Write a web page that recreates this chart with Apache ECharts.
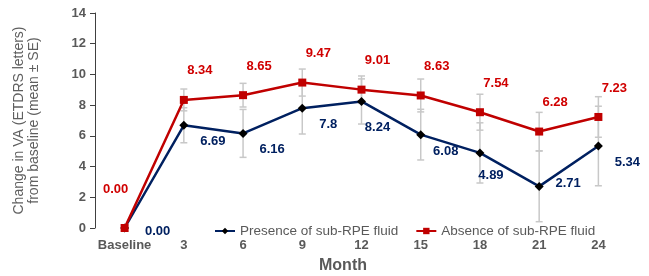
<!DOCTYPE html>
<html>
<head>
<meta charset="utf-8">
<script src="https://cdn.jsdelivr.net/npm/echarts@6.0.0/dist/echarts.min.js"></script>
<style>
  html, body { margin: 0; padding: 0; background: #fff; }
  #chart { width: 649px; height: 276px; }
</style>
</head>
<body>
<div id="chart"></div>
<script>
// 数据
const months = ['Baseline', '3', '6', '9', '12', '15', '18', '21', '24'];
const presenceMean = [0, 6.69, 6.16, 7.8, 8.24, 6.08, 4.89, 2.71, 5.34];
const presenceSE = [0, 1.14, 1.56, 1.68, 1.47, 1.65, 1.96, 2.3, 2.59];
const presenceText = ['0.00', '6.69', '6.16', '7.8', '8.24', '6.08', '4.89', '2.71', '5.34'];
const absenceMean = [0, 8.34, 8.65, 9.47, 9.01, 8.63, 7.54, 6.28, 7.23];
const absenceSE = [0, 0.71, 0.77, 0.88, 0.89, 1.07, 1.17, 1.25, 1.32];
const absenceText = ['0.00', '8.34', '8.65', '9.47', '9.01', '8.63', '7.54', '6.28', '7.23'];
const yTicks = [0, 2, 4, 6, 8, 10, 12, 14];

// 标签偏移（样式）
const presenceOffsets = [[33, 3], [29, 16], [29, 16], [26, 16], [16, 26], [25, 17], [11, 23], [29, -3], [29, 16]];
const absenceOffsets = [[-9, -39], [16, -29], [16, -29], [16, -29], [16, -29], [16, -29], [16, -29], [16, -29], [16, -29]];

const FONT = '"Liberation Sans", Arial, sans-serif';
const RED = '#c00000';
const NAVY = '#002060';
const GREY = '#595959';

function labelled(values, texts, offsets) {
  return values.map((v, i) => ({
    value: v,
    label: { offset: offsets[i], formatter: texts[i] }
  }));
}

function errorData(means, ses) {
  return means.map((m, i) => [i, m - ses[i], m + ses[i]]);
}

function renderErrorBar(params, api) {
  const lo = api.value(1);
  const hi = api.value(2);
  if (hi - lo < 1e-6) {
    return null;
  }
  const top = api.coord([api.value(0), hi]);
  const bot = api.coord([api.value(0), lo]);
  const half = 3.5;
  const style = { stroke: '#c8c8c8', lineWidth: 1.5 };
  return {
    type: 'group',
    children: [
      { type: 'line', shape: { x1: top[0], y1: top[1], x2: bot[0], y2: bot[1] }, style: style },
      { type: 'line', shape: { x1: top[0] - half, y1: top[1], x2: top[0] + half, y2: top[1] }, style: style },
      { type: 'line', shape: { x1: bot[0] - half, y1: bot[1], x2: bot[0] + half, y2: bot[1] }, style: style }
    ]
  };
}

const chart = echarts.init(document.getElementById('chart'));

const option = {
  backgroundColor: '#fff',
  animation: false,
  textStyle: { fontFamily: FONT },
  grid: { left: 95, right: 21, top: 13, bottom: 48, containLabel: false, outerBoundsMode: 'none' },
  legend: {
    left: 209,
    top: 219,
    itemWidth: 20,
    itemHeight: 8,
    itemGap: 17,
    data: ['Presence of sub-RPE fluid', 'Absence of sub-RPE fluid'],
    textStyle: { color: GREY, fontSize: 13.5, fontFamily: FONT }
  },
  xAxis: {
    type: 'category',
    data: months,
    boundaryGap: true,
    axisLine: { show: false },
    axisTick: { show: false },
    axisLabel: { color: GREY, fontSize: 13, fontWeight: 'bold', margin: 11, interval: 0 },
    name: 'Month',
    nameLocation: 'middle',
    nameGap: 30,
    nameTextStyle: { color: GREY, fontSize: 16, fontWeight: 'bold', padding: [0, 37, 0, 0] }
  },
  yAxis: {
    type: 'value',
    min: yTicks[0],
    max: yTicks[yTicks.length - 1],
    interval: yTicks[1] - yTicks[0],
    splitLine: { show: false },
    axisLine: { show: true, lineStyle: { color: '#404040', width: 1 } },
    axisTick: { show: true, length: 5, lineStyle: { color: '#404040' } },
    axisLabel: { color: GREY, fontSize: 13, fontWeight: 'bold', margin: 9 },
    name: 'Change in VA (ETDRS letters)\nfrom baseline (mean ± SE)',
    nameLocation: 'middle',
    nameGap: 53,
    nameTextStyle: { color: '#5f5f5f', fontSize: 14, lineHeight: 15 }
  },
  series: [
    {
      name: 'errors',
      type: 'custom',
      renderItem: renderErrorBar,
      encode: { x: 0, y: [1, 2] },
      data: errorData(presenceMean, presenceSE).concat(errorData(absenceMean, absenceSE)),
      z: 1,
      silent: true
    },
    {
      name: 'Presence of sub-RPE fluid',
      type: 'line',
      data: labelled(presenceMean, presenceText, presenceOffsets),
      symbol: 'diamond',
      symbolSize: 9,
      itemStyle: { color: '#000' },
      lineStyle: { color: NAVY, width: 2.5 },
      label: {
        show: true,
        position: 'inside',
        color: NAVY,
        fontSize: 13,
        fontWeight: 'bold'
      },
      z: 3
    },
    {
      name: 'Absence of sub-RPE fluid',
      type: 'line',
      data: labelled(absenceMean, absenceText, absenceOffsets),
      symbol: 'rect',
      symbolSize: 8,
      itemStyle: { color: RED },
      lineStyle: { color: RED, width: 2.5 },
      label: {
        show: true,
        position: 'inside',
        color: '#d00000',
        fontSize: 13,
        fontWeight: 'bold'
      },
      z: 4
    }
  ]
};

chart.setOption(option);
</script>
</body>
</html>
